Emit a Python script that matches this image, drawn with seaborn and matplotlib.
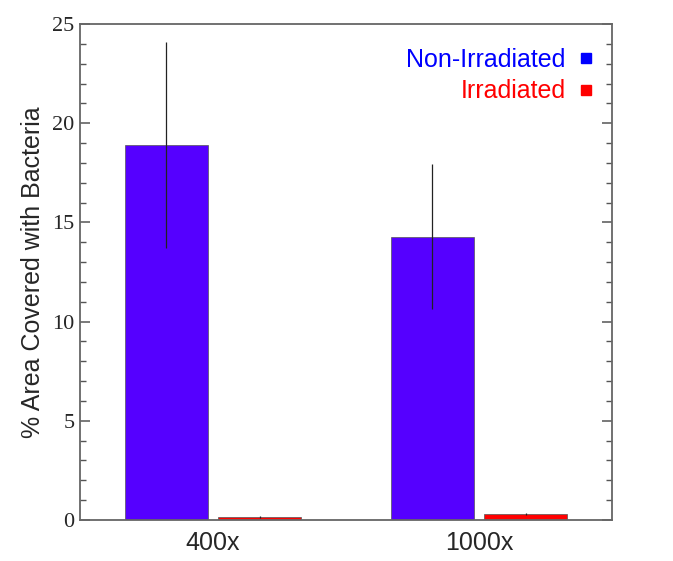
import pandas as pd
import matplotlib.pyplot as plt
import seaborn as sns
from matplotlib.lines import Line2D
from matplotlib.ticker import MultipleLocator

# Values
magnifications = ['400x', '1000x']
conditions = ['Non-Irradiated', 'Irradiated']
non_irradiated_mean = [18.9, 14.28]
non_irradiated_err = [5.2, 3.65]
irradiated_mean = [0.15, 0.29]
irradiated_err = [0.03, 0.04]

colors = {'Non-Irradiated': '#5500FF', 'Irradiated': '#FF0000'}
text_colors = {'Non-Irradiated': '#0000FF', 'Irradiated': '#FF0000'}

df = pd.DataFrame({
    'magnification': magnifications * 2,
    'condition': [conditions[0]] * 2 + [conditions[1]] * 2,
    'area': non_irradiated_mean + irradiated_mean,
    'err': non_irradiated_err + irradiated_err,
})

sns.set_style('white')
plt.rcParams['font.family'] = ['Liberation Sans', 'DejaVu Sans']

fig = plt.figure(figsize=(6.73, 5.61), dpi=100)
ax = fig.add_axes([0.1189, 0.0731, 0.7905, 0.884])

sns.barplot(data=df, x='magnification', y='area', hue='condition',
            order=magnifications, hue_order=conditions, palette=colors,
            width=0.7, gap=0.1, errorbar=None, edgecolor='#555555',
            linewidth=0.5, saturation=1, legend=False, ax=ax)

# error bars on top of the bars
for cond, cont in zip(conditions, ax.containers):
    sub = df[df['condition'] == cond].set_index('magnification').loc[magnifications]
    xs = [p.get_x() + p.get_width() / 2 for p in cont.patches]
    ax.errorbar(xs, sub['area'], yerr=sub['err'], fmt='none',
                ecolor='#222222', elinewidth=0.9, capsize=0)

ax.set_xlim(-0.5, 1.5)
ax.set_ylim(0, 25)
ax.yaxis.set_major_locator(MultipleLocator(5))
ax.yaxis.set_minor_locator(MultipleLocator(1))
ax.tick_params(axis='y', which='both', direction='in', left=True, right=True,
               color='#555555')
ax.tick_params(axis='y', which='major', length=7, width=1.1, pad=4,
               labelsize=16, labelfontfamily='Liberation Serif')
ax.tick_params(axis='y', which='minor', length=4, width=1.0)
ax.tick_params(axis='x', length=0, labelsize=18, pad=8)

for s in ax.spines.values():
    s.set_color('#666666')
    s.set_linewidth(1.3)

ax.set_xlabel('')
ax.set_ylabel('% Area Covered with Bacteria', fontsize=18, labelpad=5)

handles = [Line2D([], [], marker='s', linestyle='none', markersize=7.5,
                  color=colors[c] if c == 'Irradiated' else '#0000FF')
           for c in conditions]
leg = ax.legend(handles, conditions, loc='upper right', frameon=False,
                markerfirst=False, fontsize=18, handlelength=0.6,
                handletextpad=0.5, labelspacing=0.3, borderaxespad=0.35,
                bbox_to_anchor=(1.0, 0.99),
                labelcolor=[text_colors[c] for c in conditions])
for t in leg.get_texts():
    t.set_ha('right')
leg._legend_box.align = 'right'

fig.savefig('out.png', dpi=100)
